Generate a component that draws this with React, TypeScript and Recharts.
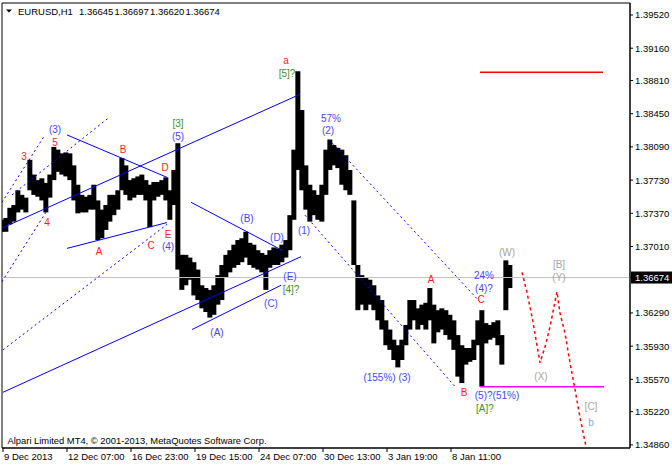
import React from 'react';
import {
  Bar,
  ComposedChart,
  Line,
  ReferenceArea,
  ReferenceDot,
  ReferenceLine,
  XAxis,
  YAxis,
} from 'recharts';

const FONT = '"Liberation Sans", Arial, sans-serif';

// one unit on the x axis = one H1 bar, sampled every 4 bars
const hours = [
  0, 4, 8, 12, 16, 20, 24, 28, 32, 36, 40, 44, 48, 52, 56, 60, 64, 68, 72, 76,
  80, 84, 88, 92, 96, 100, 104, 108, 112, 116, 120, 124, 128, 132, 136, 140, 144, 148, 152, 156,
  160, 164, 168, 172, 176, 180, 184, 188, 192, 196, 200, 204, 208, 212, 216, 220, 224, 228, 232, 236,
  240, 244, 248, 252, 256, 260, 264, 268, 272, 276, 280, 284, 288, 292, 296, 300, 304, 308, 312, 316,
  320, 324, 328, 332, 336, 340, 344, 348, 352, 356, 360, 364, 368, 372, 376, 380, 384, 388, 392, 396,
  400, 404, 408, 412, 416, 420, 424, 428, 432, 436, 440, 444, 448, 452, 456, 460, 464, 468, 472, 476,
  480, 484, 488, 492, 496, 500, 504, 508,
];

const highs = [
  1.3730, 1.3732, 1.3743, 1.3746, 1.3762, 1.3757, 1.3754, 1.3795, 1.3779, 1.3773,
  1.3775, 1.3770, 1.3779, 1.3809, 1.3806, 1.3802, 1.3803, 1.3802, 1.3789, 1.3768,
  1.3757, 1.3755, 1.3757, 1.3768, 1.3751, 1.3741, 1.3746, 1.3757, 1.3757, 1.3762,
  1.3797, 1.3789, 1.3773, 1.3775, 1.3777, 1.3779, 1.3773, 1.3768, 1.3771, 1.3771,
  1.3773, 1.3776, 1.3762, 1.3784, 1.3813, 1.3692, 1.3692, 1.3689, 1.3684, 1.3676,
  1.3659, 1.3656, 1.3654, 1.3659, 1.3670, 1.3681, 1.3692, 1.3697, 1.3703, 1.3708,
  1.3710, 1.3717, 1.3705, 1.3703, 1.3697, 1.3694, 1.3692, 1.3697, 1.3700, 1.3699,
  1.3703, 1.3708, 1.3735, 1.3806, 1.3891, 1.3849, 1.3789, 1.3768, 1.3762, 1.3757,
  1.3768, 1.3806, 1.3817, 1.3811, 1.3808, 1.3806, 1.3800, 1.3784, 1.3751, 1.3681,
  1.3670, 1.3667, 1.3665, 1.3659, 1.3648, 1.3643, 1.3621, 1.3611, 1.3600, 1.3594,
  1.3600, 1.3616, 1.3643, 1.3643, 1.3634, 1.3638, 1.3640, 1.3656, 1.3638, 1.3632,
  1.3634, 1.3632, 1.3627, 1.3621, 1.3605, 1.3594, 1.3591, 1.3591, 1.3600, 1.3621,
  1.3632, 1.3618, 1.3616, 1.3619, 1.3621, 1.3605, 1.3686, 1.3681,
];

const lows = [
  1.3717, 1.3717, 1.3725, 1.3728, 1.3738, 1.3741, 1.3738, 1.3762, 1.3757, 1.3755,
  1.3751, 1.3738, 1.3754, 1.3773, 1.3782, 1.3779, 1.3777, 1.3773, 1.3751, 1.3737,
  1.3738, 1.3738, 1.3741, 1.3741, 1.3708, 1.3710, 1.3719, 1.3728, 1.3735, 1.3741,
  1.3762, 1.3757, 1.3751, 1.3754, 1.3757, 1.3757, 1.3751, 1.3722, 1.3751, 1.3755,
  1.3757, 1.3751, 1.3730, 1.3746, 1.3676, 1.3654, 1.3659, 1.3665, 1.3648, 1.3643,
  1.3634, 1.3630, 1.3624, 1.3627, 1.3638, 1.3643, 1.3668, 1.3673, 1.3678, 1.3681,
  1.3684, 1.3689, 1.3681, 1.3678, 1.3676, 1.3673, 1.3654, 1.3678, 1.3681, 1.3681,
  1.3684, 1.3689, 1.3697, 1.3730, 1.3784, 1.3762, 1.3741, 1.3728, 1.3735, 1.3730,
  1.3728, 1.3757, 1.3784, 1.3789, 1.3786, 1.3768, 1.3762, 1.3757, 1.3681, 1.3632,
  1.3638, 1.3632, 1.3638, 1.3632, 1.3621, 1.3611, 1.3594, 1.3589, 1.3578, 1.3570,
  1.3578, 1.3594, 1.3611, 1.3621, 1.3611, 1.3616, 1.3611, 1.3621, 1.3596, 1.3608,
  1.3611, 1.3605, 1.3600, 1.3589, 1.3560, 1.3553, 1.3573, 1.3576, 1.3578, 1.3594,
  1.3549, 1.3596, 1.3600, 1.3602, 1.3594, 1.3573, 1.3632, 1.3656,
];

const lastClose = 1.36674;
const quote = ['1.36645', '1.36697', '1.36620', '1.36674'];

const timeTicks = [1, 65, 129, 193, 257, 321, 385, 449];
const timeLabels = [
  '9 Dec 2013', '12 Dec 07:00', '16 Dec 23:00', '19 Dec 15:00',
  '24 Dec 07:00', '30 Dec 13:00', '3 Jan 19:00', '8 Jan 11:00',
];
const priceTicks = [
  1.3952, 1.3916, 1.3881, 1.3845, 1.3809, 1.3773, 1.3737, 1.3701,
  1.36674, 1.3629, 1.3593, 1.3557, 1.3522, 1.3486,
];
const PRICE_MIN = 1.34826;
const PRICE_MAX = 1.3965;

// trend lines, [hour, price] pairs
const solidLines = [
  [[0, 1.3721], [298, 1.3866]],
  [[1, 1.3543], [299, 1.369]],
  [[190, 1.3611], [279, 1.3659]],
  [[189, 1.3749], [280, 1.3697]],
  [[65, 1.3822], [165, 1.3776]],
  [[65, 1.3699], [165, 1.3727]],
];
const dottedLines = [
  [[0, 1.3749], [43, 1.3822]],
  [[10, 1.3757], [106, 1.384]],
  [[0, 1.3663], [45, 1.374]],
  [[1, 1.3589], [165, 1.3725]],
  [[303, 1.3735], [454, 1.3548]],
  [[327, 1.3817], [478, 1.3641]],
];
const targetLine = [[478, 1.389], [601, 1.389]];
const supportLine = [[478, 1.3549], [602, 1.3549]];

const forecastHours = [520, 525, 530, 538, 543, 548, 555, 558, 563, 568, 573, 578, 584];
const forecastPrices = [
  1.3673, 1.3651, 1.3625, 1.3575, 1.3592, 1.3614, 1.3652, 1.3629, 1.3607,
  1.3575, 1.3546, 1.3516, 1.3484,
];

// wave labels: [text, hour, price]
const redLabels: [string, number, number][] = [
  ['3', 22, 1.3799], ['5', 53, 1.3814], ['4', 45, 1.3727], ['A', 97, 1.3696],
  ['B', 121, 1.3806], ['C', 149, 1.3702], ['D', 163, 1.3787], ['E', 166, 1.3714],
  ['a', 284, 1.3903], ['A', 429, 1.3665], ['C', 479, 1.3644], ['B', 462, 1.3543],
];
const blueLabels: [string, number, number][] = [
  ['(3)', 53, 1.3828], ['(4)', 166, 1.3701], ['(5)', 176, 1.382], ['57%', 329, 1.384],
  ['(2)', 326, 1.3827], ['(B)', 245, 1.3731], ['(D)', 275, 1.3711], ['(1)', 302, 1.3718],
  ['(E)', 288, 1.3669], ['(C)', 269, 1.3639], ['(A)', 215, 1.3608],
  ['(155%) (3)', 385, 1.3559], ['24%', 482, 1.3670], ['(4)?', 482, 1.3656],
  ['(5)?(51%)', 495, 1.354],
];
const greenLabels: [string, number, number][] = [
  ['[3]', 176, 1.3834], ['[5]?', 285, 1.3889], ['[4]?', 289, 1.3655], ['[A]?', 483, 1.3525],
];
const grayLabels: [string, number, number][] = [
  ['(W)', 505, 1.3695], ['[B]', 557, 1.3682], ['(Y)', 557, 1.3667],
  ['(X)', 539, 1.356], ['[C]', 589, 1.3528],
];
const paleLabels: [string, number, number][] = [['b', 589, 1.351]];

const rows = hours.map((h, i) => ({ idx: h, range: [lows[i], highs[i]] }));
const forecast = forecastHours.map((h, i) => ({ idx: h, price: forecastPrices[i] }));

// recharts shrinks the bars inside their slot; draw each one 5px wide so they touch
function RangeBar({ x, y, width, height }: any) {
  if (x == null || height == null) return null;
  const cx = x + width / 2;
  return <rect x={cx - 2.5} y={y} width={5} height={Math.max(height, 1)} fill="#000" />;
}

function PriceTick({ x, y, payload }: any) {
  const v = payload.value;
  if (v === lastClose) {
    return (
      <g>
        <rect x={x - 4} y={y - 6} width={46} height={12} fill="#000" />
        <text x={x} y={y + 3.5} fill="#fff" fontSize={9.5} fontFamily={FONT}>
          {v.toFixed(5)}
        </text>
      </g>
    );
  }
  return (
    <text x={x} y={y + 3.5} fill="#000" fontSize={9.5} fontFamily={FONT}>
      {v.toFixed(5)}
    </text>
  );
}

function TimeTick({ x, payload }: any) {
  const i = timeTicks.indexOf(payload.value);
  return (
    <text x={x + 1} y={460} fill="#000" fontSize={9.5} fontFamily={FONT}>
      {timeLabels[i]}
    </text>
  );
}

function labelDots(list: [string, number, number][], color: string) {
  return list.map(([text, h, p], i) => (
    <ReferenceDot
      key={color + i}
      x={h}
      y={p}
      r={0}
      fill="none"
      stroke="none"
      label={{ value: text, position: 'center', fill: color, fontSize: 10, fontFamily: FONT }}
    />
  ));
}

export default function App() {
  return (
    <div style={{ position: 'absolute', left: 0, top: 0, width: 672, height: 466, background: '#fff' }}>
      <ComposedChart
        width={672}
        height={466}
        data={rows}
        margin={{ top: 3, right: 0, bottom: 0, left: 2 }}
      >
        <XAxis
          type="number"
          dataKey="idx"
          domain={[0, 628]}
          allowDataOverflow
          ticks={timeTicks}
          interval={0}
          height={18}
          tickSize={4}
          stroke="#000"
          tick={(p: any) => <TimeTick {...p} />}
        />
        <YAxis
          orientation="right"
          type="number"
          domain={[PRICE_MIN, PRICE_MAX]}
          allowDataOverflow
          ticks={priceTicks}
          interval={0}
          width={42}
          tickSize={3}
          tickMargin={2}
          stroke="#000"
          tick={(p: any) => <PriceTick {...p} />}
        />
        <ReferenceLine y={lastClose} stroke="#c0c0c0" />
        <Bar dataKey="range" fill="#000" barSize={4} shape={RangeBar} isAnimationActive={false} />
        {solidLines.map((s, i) => (
          <ReferenceLine
            key={'s' + i}
            segment={[{ x: s[0][0], y: s[0][1] }, { x: s[1][0], y: s[1][1] }]}
            stroke="#0000ff"
            ifOverflow="visible"
          />
        ))}
        {dottedLines.map((s, i) => (
          <ReferenceLine
            key={'d' + i}
            segment={[{ x: s[0][0], y: s[0][1] }, { x: s[1][0], y: s[1][1] }]}
            stroke="#0000ff"
            strokeDasharray="2 3"
            ifOverflow="visible"
          />
        ))}
        <ReferenceLine
          segment={[{ x: targetLine[0][0], y: targetLine[0][1] }, { x: targetLine[1][0], y: targetLine[1][1] }]}
          stroke="#ff0000"
          strokeWidth={1.5}
          ifOverflow="visible"
        />
        <ReferenceLine
          segment={[{ x: supportLine[0][0], y: supportLine[0][1] }, { x: supportLine[1][0], y: supportLine[1][1] }]}
          stroke="#ff00ff"
          strokeWidth={1.5}
          ifOverflow="visible"
        />
        <Line
          data={forecast}
          dataKey="price"
          type="linear"
          stroke="#ff0000"
          strokeWidth={1.5}
          strokeDasharray="3 3"
          dot={false}
          isAnimationActive={false}
        />
        <ReferenceArea
          x1={0}
          x2={628}
          y1={PRICE_MIN}
          y2={PRICE_MAX}
          fill="none"
          stroke="#000"
          ifOverflow="visible"
        />
        {labelDots(redLabels, '#ff1a1a')}
        {labelDots(blueLabels, '#4646ff')}
        {labelDots(greenLabels, '#3d8f2a')}
        {labelDots(grayLabels, '#a4a4a4')}
        {labelDots(paleLabels, '#86aad6')}
      </ComposedChart>
      <svg
        width={672}
        height={466}
        style={{ position: 'absolute', left: 0, top: 0, pointerEvents: 'none' }}
      >
        <polygon points="6,9.5 12,9.5 9,12.5" fill="#000" />
        <text x={18} y={14.5} fontSize={9.5} fontFamily={FONT} fill="#000">EURUSD,H1</text>
        {quote.map((q, i) => (
          <text key={q + i} x={79 + i * 35.5} y={14.5} fontSize={9.5} fontFamily={FONT} fill="#000">
            {q}
          </text>
        ))}
        <text x={7.5} y={444} fontSize={9.5} fontFamily={FONT} fill="#000" textLength={259} lengthAdjust="spacingAndGlyphs">
          Alpari Limited MT4, © 2001-2013, MetaQuotes Software Corp.
        </text>
      </svg>
    </div>
  );
}
